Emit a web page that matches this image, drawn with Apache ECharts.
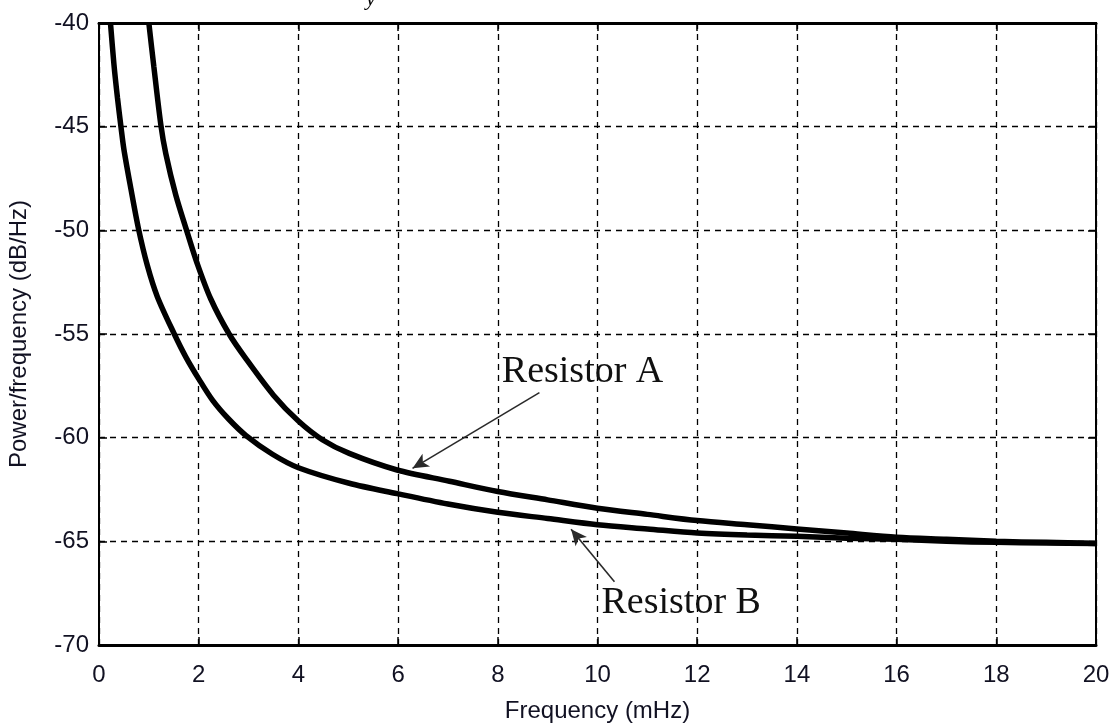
<!DOCTYPE html>
<html>
<head>
<meta charset="utf-8">
<script src="https://cdn.jsdelivr.net/npm/echarts@6/dist/echarts.min.js"></script>
<style>
html,body{margin:0;padding:0;background:#fff;}
#chart{width:1110px;height:724px;}
</style>
</head>
<body>
<div id="chart"></div>
<script>
// Data
var resistorA = [
  [1.0, -40], [1.1, -42.1], [1.24, -44.9], [1.34, -46.3], [1.54, -48.3], [1.77, -50.1],
  [1.97, -51.6], [2.24, -53.3], [2.61, -55.0], [2.95, -56.2], [3.5, -57.95], [4.0, -59.2],
  [4.48, -60.1], [5.02, -60.76], [5.98, -61.56], [7.03, -62.1], [8.0, -62.6],
  [9.0, -63.0], [10.0, -63.4], [11.0, -63.7], [12.0, -64.0], [13.0, -64.2],
  [14.0, -64.4], [15.0, -64.6], [16.0, -64.8], [17.0, -64.9], [18.0, -65.0],
  [19.0, -65.05], [20.0, -65.1]
];
var resistorB = [
  [0.23, -40], [0.3, -42.0], [0.37, -43.6], [0.44, -45], [0.5, -46.1], [0.64, -48.0],
  [0.79, -49.9], [0.97, -51.7], [1.17, -53.2], [1.51, -55.0], [1.74, -56.1], [2.01, -57.2],
  [2.28, -58.2], [2.6, -59.1], [2.95, -59.9], [3.48, -60.8], [4.0, -61.45], [5.02, -62.2],
  [5.98, -62.7], [7.0, -63.2], [8.0, -63.6], [9.0, -63.9], [10.0, -64.2], [11.0, -64.4],
  [12.0, -64.6], [13.0, -64.7], [14.0, -64.75], [15.0, -64.85], [16.0, -64.9],
  [17.0, -65.0], [18.0, -65.05], [19.0, -65.08], [20.0, -65.1]
];
var xTicks = {min: 0, max: 20, interval: 2};
var yTicks = {min: -70, max: -40, interval: 5};
var xTitle = 'Frequency (mHz)';
var yTitle = 'Power/frequency (dB/Hz)';
// annotation arrows: [from, to] in data units
var arrowA = [[8.835, -57.83], [6.29, -61.48]];
var arrowB = [[10.34, -66.95], [9.47, -64.42]];
var labelA = {text: 'Resistor A', at: [8.1, -56.81]};
var labelB = {text: 'Resistor B', at: [10.1, -67.98]};

var chart = echarts.init(document.getElementById('chart'), null, {renderer: 'canvas'});
var labelFont = {color: '#111122', fontFamily: 'Liberation Sans, Arial, sans-serif', fontSize: 24};
var gridDash = {show: true, lineStyle: {color: '#000', width: 1.3, type: [6, 5]}};

var option = {
  backgroundColor: '#fff',
  animation: false,
  grid: {left: 99, right: 14, top: 23, bottom: 79, show: true, borderColor: '#000', borderWidth: 2,
         backgroundColor: 'transparent', containLabel: false, outerBoundsMode: 'none'},
  xAxis: [{
    type: 'value', min: xTicks.min, max: xTicks.max, interval: xTicks.interval,
    axisLine: {show: true, onZero: false, lineStyle: {color: '#000', width: 3}},
    axisTick: {show: true, inside: true, length: 8, lineStyle: {color: '#000', width: 1.5}},
    axisLabel: Object.assign({margin: 18}, labelFont),
    splitLine: gridDash,
    name: xTitle, nameLocation: 'middle', nameGap: 54,
    nameTextStyle: labelFont
  }, {
    type: 'value', position: 'top', min: xTicks.min, max: xTicks.max, interval: xTicks.interval,
    axisLine: {show: true, onZero: false, lineStyle: {color: '#000', width: 3}},
    axisTick: {show: true, inside: true, length: 8, lineStyle: {color: '#000', width: 1.5}},
    axisLabel: {show: false}, splitLine: {show: false}
  }],
  yAxis: [{
    type: 'value', min: yTicks.min, max: yTicks.max, interval: yTicks.interval,
    axisLine: {show: true, onZero: false, lineStyle: {color: '#000', width: 2}},
    axisTick: {show: true, inside: true, length: 8, lineStyle: {color: '#000', width: 1.5}},
    axisLabel: Object.assign({margin: 10}, labelFont),
    splitLine: gridDash,
    name: yTitle, nameLocation: 'middle', nameGap: 68, nameRotate: 90,
    nameTextStyle: labelFont
  }, {
    type: 'value', position: 'right', min: yTicks.min, max: yTicks.max, interval: yTicks.interval,
    axisLine: {show: true, onZero: false, lineStyle: {color: '#000', width: 2}},
    axisTick: {show: true, inside: true, length: 8, lineStyle: {color: '#000', width: 1.5}},
    axisLabel: {show: false}, splitLine: {show: false}
  }],
  series: [{
    name: 'Resistor A', type: 'line', data: resistorA, smooth: 0.3, showSymbol: false,
    lineStyle: {color: '#000', width: 5.5}, clip: true, z: 3,
    markLine: {
      silent: true, symbol: ['none', 'arrow'], symbolSize: [11, 16],
      lineStyle: {color: '#2a2a2a', width: 1.6, type: 'solid'},
      label: {show: false},
      data: [[{coord: arrowA[0]}, {coord: arrowA[1]}], [{coord: arrowB[0]}, {coord: arrowB[1]}]]
    },
    markPoint: {
      silent: true, symbol: 'circle', symbolSize: 0,
      label: {show: true, position: 'right', offset: [-6, 0], color: '#111', fontFamily: 'Liberation Serif, Times New Roman, serif', fontSize: 38},
      data: [
        {coord: labelA.at, value: labelA.text, label: {formatter: labelA.text}},
        {coord: labelB.at, value: labelB.text, label: {formatter: labelB.text}}
      ]
    }
  }, {
    name: 'Resistor B', type: 'line', data: resistorB, smooth: 0.3, showSymbol: false,
    lineStyle: {color: '#000', width: 5.5}, clip: true, z: 3
  }],
  graphic: [{
    type: 'text', left: 366, top: -12,
    style: {text: 'y', fontFamily: 'Liberation Serif, serif', fontStyle: 'italic', fontSize: 22, fill: '#000'}
  }]
};
chart.setOption(option);
</script>
</body>
</html>
